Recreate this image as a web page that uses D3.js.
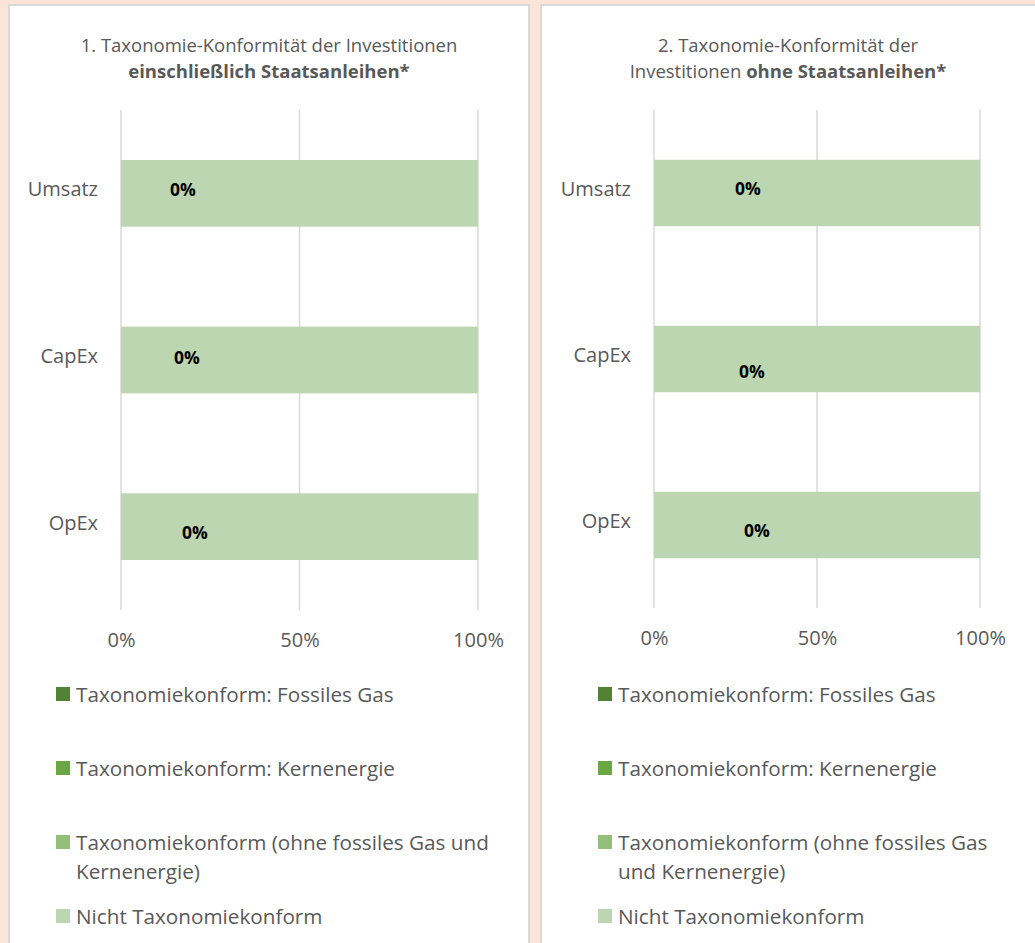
<!DOCTYPE html>
<html>
<head>
<meta charset="utf-8">
<script src="https://cdn.jsdelivr.net/npm/d3@7"></script>
<style>
  html, body { margin: 0; padding: 0; background: #fde4d8; }
  svg { display: block; }
  text { font-family: "Open Sans", "Noto Sans", sans-serif; }
</style>
</head>
<body>
<svg id="chart" width="1035" height="943"></svg>
<script>
// ---- data ----
const categories = ["Umsatz", "CapEx", "OpEx"];
const seriesNames = [
  "Taxonomiekonform: Fossiles Gas",
  "Taxonomiekonform: Kernenergie",
  "Taxonomiekonform (ohne fossiles Gas und Kernenergie)",
  "Nicht Taxonomiekonform"
];
// values per category (Umsatz, CapEx, OpEx), in percent
const fossilGas1 = [0, 0, 0];
const nuclear1 = [0, 0, 0];
const aligned1 = [0, 0, 0];
const notAligned1 = [100, 100, 100];
const fossilGas2 = [0, 0, 0];
const nuclear2 = [0, 0, 0];
const aligned2 = [0, 0, 0];
const notAligned2 = [100, 100, 100];
const valueLabels1 = ["0%", "0%", "0%"];
const valueLabels2 = ["0%", "0%", "0%"];
const tickValues = [0, 50, 100];
const tickLabels = ["0%", "50%", "100%"];
const titleLines1 = [[["1. Taxonomie-Konformität der Investitionen", false]], [["einschließlich Staatsanleihen*", true]]];
const titleLines2 = [[["2. Taxonomie-Konformität der", false]], [["Investitionen ", false], ["ohne Staatsanleihen*", true]]];
const legendLines1 = [["Taxonomiekonform: Fossiles Gas"], ["Taxonomiekonform: Kernenergie"], ["Taxonomiekonform (ohne fossiles Gas und", "Kernenergie)"], ["Nicht Taxonomiekonform"]];
const legendLines2 = [["Taxonomiekonform: Fossiles Gas"], ["Taxonomiekonform: Kernenergie"], ["Taxonomiekonform (ohne fossiles Gas", "und Kernenergie)"], ["Nicht Taxonomiekonform"]];

// ---- styles / layout ----
const colors = ["#548235", "#6aa642", "#93bf7a", "#bdd6b2"];
const textColor = "#595959";
const svg = d3.select("#chart");

function drawPanel(cfg) {
  const g = svg.append("g");
  g.append("rect")
    .attr("x", cfg.box[0]).attr("y", cfg.box[1])
    .attr("width", cfg.box[2]).attr("height", cfg.box[3])
    .attr("fill", "#ffffff").attr("stroke", "#d9d9d9").attr("stroke-width", 2);

  // title
  cfg.title.forEach((line, i) => {
    const t = g.append("text")
      .attr("x", cfg.titleX).attr("y", cfg.titleY + i * 26)
      .attr("text-anchor", "middle").attr("dominant-baseline", "central")
      .attr("font-size", 18.5).attr("fill", textColor);
    line.forEach(([s, b]) => t.append("tspan").text(s).attr("font-weight", b ? "bold" : "normal"));
  });

  const x = d3.scaleLinear().domain([0, 100]).range([cfg.x0, cfg.x1]);
  const y = d3.scaleBand().domain(categories).range([cfg.yTop, cfg.yBottom])
    .paddingInner(0.6).paddingOuter(0.3);

  // gridlines
  g.append("g").selectAll("line").data(tickValues).join("line")
    .attr("x1", d => x(d)).attr("x2", d => x(d))
    .attr("y1", cfg.yTop).attr("y2", cfg.yBottom)
    .attr("stroke", "#d9d9d9").attr("stroke-width", 1.5);

  // stacked bars
  const rows = categories.map((c, i) => {
    const r = { cat: c };
    cfg.series.forEach((s, k) => r["s" + k] = s[i]);
    return r;
  });
  const stack = d3.stack().keys(cfg.series.map((s, k) => "s" + k))(rows);
  g.append("g").selectAll("g").data(stack).join("g")
    .attr("fill", (d, k) => colors[k])
    .selectAll("rect").data(d => d).join("rect")
    .attr("x", d => x(d[0]))
    .attr("width", d => Math.max(0, x(d[1]) - x(d[0])))
    .attr("y", d => y(d.data.cat))
    .attr("height", y.bandwidth());

  // value labels
  g.append("g").selectAll("text").data(categories).join("text")
    .attr("x", (c, i) => x(cfg.series[2][i]) + cfg.labelOff[i][0])
    .attr("y", c => y(c) + y.bandwidth() / 2)
    .attr("dy", (c, i) => cfg.labelOff[i][1])
    .attr("dominant-baseline", "central")
    .attr("text-anchor", "middle")
    .attr("font-size", 17.5).attr("font-weight", "bold").attr("fill", "#000")
    .text((c, i) => cfg.valueLabels[i]);

  // category axis
  const yAxis = g.append("g").attr("transform", `translate(${cfg.x0 - 23},0)`)
    .call(d3.axisLeft(y).tickSize(0).tickPadding(0));
  yAxis.select(".domain").remove();
  yAxis.selectAll("text").attr("font-size", 20).attr("fill", textColor)
    .attr("font-family", '"Open Sans", sans-serif').attr("dy", "0.15em");

  // value axis
  const xAxis = g.append("g").attr("transform", `translate(0,${cfg.yBottom + 23})`)
    .call(d3.axisBottom(x).tickValues(tickValues).tickFormat((d, i) => tickLabels[i]).tickSize(0).tickPadding(0));
  xAxis.select(".domain").remove();
  xAxis.selectAll("text").attr("font-size", 20).attr("fill", textColor)
    .attr("font-family", '"Open Sans", sans-serif').attr("dy", "0.71em");

  // legend
  const lg = g.append("g");
  cfg.legend.forEach((lines, k) => {
    const cy = cfg.legendY + k * 74;
    lg.append("rect").attr("x", cfg.legendX).attr("y", cy - 7)
      .attr("width", 14).attr("height", 14).attr("fill", colors[k]);
    lines.forEach((ln, j) => {
      lg.append("text").attr("x", cfg.legendX + 20).attr("y", cy + j * 29)
        .attr("dominant-baseline", "central")
        .attr("font-size", 20.7).attr("fill", textColor).text(ln);
    });
  });
}

drawPanel({
  box: [9, 5, 520, 950],
  title: titleLines1, titleX: 269, titleY: 44,
  x0: 121, x1: 478, yTop: 110, yBottom: 610,
  series: [fossilGas1, nuclear1, aligned1, notAligned1],
  valueLabels: valueLabels1,
  labelOff: [[62, -4], [66, -3], [74, 5]],
  legend: legendLines1, legendX: 56, legendY: 694
});
drawPanel({
  box: [541, 5, 510, 950],
  title: titleLines2, titleX: 788, titleY: 44,
  x0: 654, x1: 980, yTop: 110, yBottom: 608,
  series: [fossilGas2, nuclear2, aligned2, notAligned2],
  valueLabels: valueLabels2,
  labelOff: [[94, -5], [98, 12], [103, 5]],
  legend: legendLines2, legendX: 598, legendY: 694
});
</script>
</body>
</html>
